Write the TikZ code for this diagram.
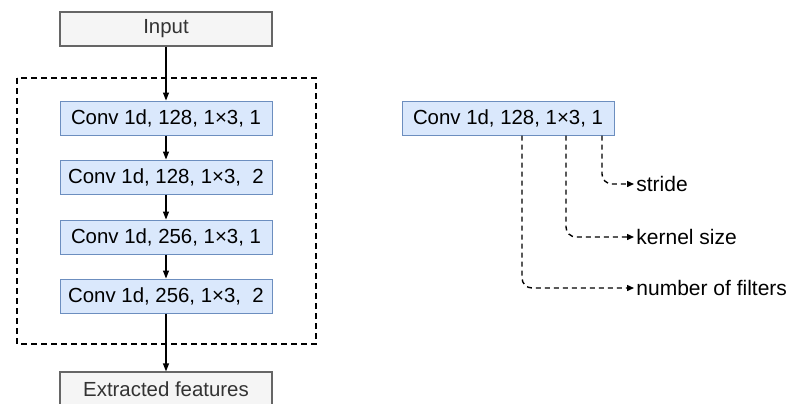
\documentclass[tikz,border=0pt]{standalone}
\usepackage{fontspec}
\setmainfont{Liberation Sans}
\usetikzlibrary{arrows.meta}

\definecolor{convfill}{HTML}{DAE8FC}
\definecolor{convline}{HTML}{6C8EBF}
\definecolor{iofill}{HTML}{F5F5F5}
\definecolor{ioline}{HTML}{666666}

\tikzset{
	layer/.style={rectangle,draw=convline,fill=convfill,minimum width=106pt,minimum height=17pt,inner sep=0pt,line width=0.5pt},
	io/.style={rectangle,draw=ioline,fill=iofill,text=black!80,minimum width=106pt,minimum height=17pt,inner sep=0pt,line width=0.6pt},
	flow/.style={-{Triangle[length=4pt,width=3pt]},line width=0.6pt},
	hint/.style={-{Triangle[length=3.5pt,width=3pt]},line width=0.7pt,dash pattern=on 2.5pt off 2pt,rounded corners=5pt},
	param/.style={anchor=west,inner sep=1pt,font=\fontsize{10.5}{12}\selectfont}
}

\begin{document}
\begin{tikzpicture}[x=0.5pt,y=-0.5pt,font=\fontsize{10.2}{12}\selectfont]
			\useasboundingbox (0,0) rectangle (787,403);

			% feature extractor stack
			\node at (166, 29) [io]    (input)    {Input};
			\node at (166,118) [layer] (conv_a)   {Conv 1d, 128, 1×3, 1};
			\node at (166,177) [layer] (conv_b)   {Conv 1d, 128, 1×3,\ \ 2};
			\node at (166,237) [layer] (conv_c)   {Conv 1d, 256, 1×3, 1};
			\node at (166,296) [layer] (conv_d)   {Conv 1d, 256, 1×3,\ \ 2};
			\node at (166,389) [io]    (features) {Extracted features};

			\draw[line width=0.6pt,dash pattern=on 3pt off 2pt] (17,78) rectangle (316,344);

			\draw[flow] (input)  -- (conv_a);
			\draw[flow] (conv_a) -- (conv_b);
			\draw[flow] (conv_b) -- (conv_c);
			\draw[flow] (conv_c) -- (conv_d);
			\draw[flow] (conv_d) -- (features);

			% legend for the layer parameters
			\node at (508,118) [layer] (conv_demo) {Conv 1d, 128, 1×3, 1};
			\node at (634,184) [param] (stride)  {stride};
			\node at (634,237) [param] (kernel)  {kernel size};
			\node at (634,288) [param] (filters) {number of filters};

			\draw[hint] ([xshift=47pt]conv_demo.south) |- (stride.west);
			\draw[hint] ([xshift=29pt]conv_demo.south) |- (kernel.west);
			\draw[hint] ([xshift=7pt]conv_demo.south)  |- (filters.west);
		\end{tikzpicture}
\end{document}
